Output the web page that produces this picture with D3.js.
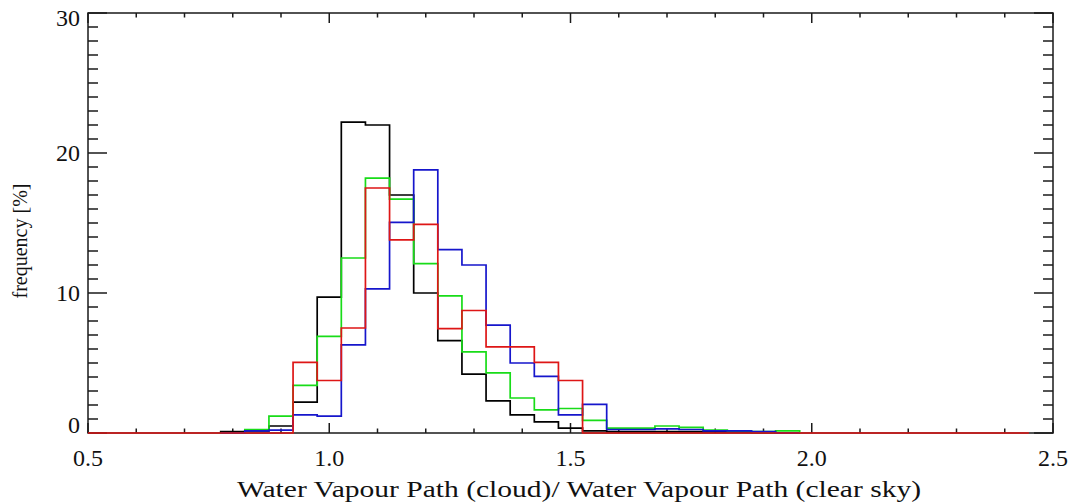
<!DOCTYPE html>
<html>
<head>
<meta charset="utf-8">
<script src="https://cdn.jsdelivr.net/npm/d3@7"></script>
<style>
    body { margin: 0; background: #fff; }
    svg { display: block; }
    text { font-family: "Liberation Serif", "DejaVu Serif", serif; fill: #111; }
</style>
</head>
<body>
<svg id="chart" width="1075" height="504"></svg>
<script>
// bin centres of the histogram (bin width 0.05)
var binCenters = [0.80, 0.85, 0.90, 0.95, 1.00, 1.05, 1.10, 1.15, 1.20, 1.25, 1.30, 1.35,
                  1.40, 1.45, 1.50, 1.55, 1.60, 1.65, 1.70, 1.75, 1.80, 1.85, 1.90, 1.95];
var binWidth = 0.05;

// frequency [%] for each series
var blackValues = [0.1, 0.15, 0.5, 2.2, 9.7, 22.2, 22.0, 17.0, 10.0, 6.6, 4.2, 2.3,
                   1.3, 0.8, 0.35, 0.15, 0.1, 0.1, 0.1, 0.1, 0.1, 0.1, 0.05, 0];
var greenValues = [0, 0.25, 1.2, 3.4, 6.9, 12.5, 18.2, 16.7, 12.1, 9.8, 5.8, 4.3,
                   2.5, 1.65, 1.75, 0.9, 0.35, 0.35, 0.5, 0.4, 0.2, 0.15, 0.1, 0.15];
var blueValues  = [0, 0.15, 0.2, 1.3, 1.2, 6.3, 10.3, 15.05, 18.8, 13.1, 12.0, 7.7,
                   5.0, 4.05, 1.3, 2.05, 0.25, 0.25, 0.3, 0.25, 0.15, 0.15, 0.1, 0];
var redValues   = [0, 0, 0, 5.05, 3.75, 7.5, 17.5, 13.8, 14.9, 7.45, 8.75, 6.15,
                   6.15, 5.05, 3.75, 0, 0, 0, 0, 0, 0, 0, 0, 0];
// the red histogram runs along zero over this whole range
var redExtent = [0.5, 2.45];

var xTicks = [0.5, 1.0, 1.5, 2.0, 2.5];
var xTickLabels = ["0.5", "1.0", "1.5", "2.0", "2.5"];
var yTicks = [0, 10, 20, 30];
var yTickLabels = ["0", "10", "20", "30"];

var xTitle = "Water Vapour Path (cloud)/ Water Vapour Path (clear sky)";
var yTitle = "frequency [%]";

var series = [
    { values: blackValues, color: "#000000" },
    { values: greenValues, color: "#18dc18" },
    { values: blueValues,  color: "#1616cc" },
    { values: redValues,   color: "#de1616", extent: redExtent }
];

var margin = { left: 88, right: 1053, top: 13, bottom: 433 };

var svg = d3.select("#chart");

var x = d3.scaleLinear().domain([0.5, 2.5]).range([margin.left, margin.right]);
var y = d3.scaleLinear().domain([0, 30]).range([margin.bottom, margin.top]);

// Build the outline of a step histogram
function stepPoints(values, extent) {
    var pts = [];
    if (extent) pts.push([extent[0], 0]);
    pts.push([binCenters[0] - binWidth / 2, 0]);
    values.forEach(function(v, i) {
        pts.push([binCenters[i] - binWidth / 2, v]);
        pts.push([binCenters[i] + binWidth / 2, v]);
    });
    pts.push([binCenters[binCenters.length - 1] + binWidth / 2, 0]);
    if (extent) pts.push([extent[1], 0]);
    return pts;
}

var line = d3.line()
    .x(function(d) { return x(d[0]); })
    .y(function(d) { return y(d[1]); });

drawAxes();
drawSeries();
drawLabels();

function drawSeries() {
    series.forEach(function(s) {
        svg.append("path")
            .attr("d", line(stepPoints(s.values, s.extent)))
            .attr("fill", "none")
            .attr("stroke", s.color)
            .attr("stroke-width", 1.7)
            .attr("stroke-linejoin", "miter");
    });
}

function drawAxes() {
    var axisColor = "#1a1a1a";
    var g = svg.append("g").attr("stroke", axisColor).attr("stroke-width", 1.5);

    // x ticks: minor every 0.1, on bottom and top
    var xMinor = d3.range(5, 26).map(function(k) { return k / 10; });
    xMinor.forEach(function(v) {
        var major = Math.abs(v * 2 - Math.round(v * 2)) < 1e-6;
        var len = major ? 10 : 4.5;
        g.append("line")
            .attr("x1", x(v)).attr("x2", x(v))
            .attr("y1", margin.bottom).attr("y2", margin.bottom - len);
        g.append("line")
            .attr("x1", x(v)).attr("x2", x(v))
            .attr("y1", margin.top).attr("y2", margin.top + len);
    });

    // y ticks: minor every 1, on left and right
    d3.range(0, 31).forEach(function(v) {
        var len = (v % 10 === 0) ? 19 : 10;
        g.append("line")
            .attr("x1", margin.left).attr("x2", margin.left + len)
            .attr("y1", y(v)).attr("y2", y(v));
        g.append("line")
            .attr("x1", margin.right).attr("x2", margin.right - len)
            .attr("y1", y(v)).attr("y2", y(v));
    });

    svg.append("rect")
        .attr("x", margin.left).attr("y", margin.top)
        .attr("width", margin.right - margin.left)
        .attr("height", margin.bottom - margin.top)
        .attr("fill", "none")
        .attr("stroke", axisColor)
        .attr("stroke-width", 1.5);
}

function drawLabels() {
    xTicks.forEach(function(v, i) {
        svg.append("text")
            .attr("x", x(v))
            .attr("y", 466)
            .attr("text-anchor", "middle")
            .attr("font-size", 24)
            .text(xTickLabels[i]);
    });

    yTicks.forEach(function(v, i) {
        // keep end labels inside the frame, as the original does
        var cy = Math.min(Math.max(y(v), margin.top + 5), margin.bottom - 8);
        svg.append("text")
            .attr("x", 80)
            .attr("y", cy + 8)
            .attr("text-anchor", "end")
            .attr("font-size", 24)
            .text(yTickLabels[i]);
    });

    // the original font is wider than Times, so stretch to its measured width
    svg.append("text")
        .attr("x", 579)
        .attr("y", 497)
        .attr("text-anchor", "middle")
        .attr("font-size", 24)
        .attr("textLength", 684)
        .attr("lengthAdjust", "spacingAndGlyphs")
        .text(xTitle);

    svg.append("text")
        .attr("transform", "translate(27," + 241 + ") rotate(-90)")
        .attr("text-anchor", "middle")
        .attr("font-size", 20)
        .text(yTitle);
}
</script>
</body>
</html>
